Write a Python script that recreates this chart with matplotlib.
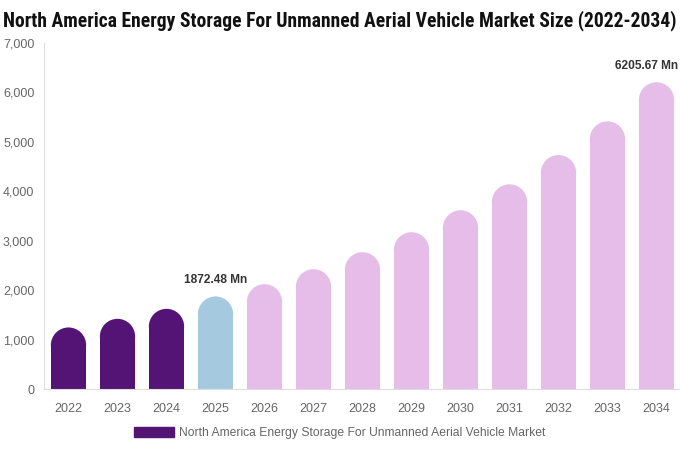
import numpy as np
import matplotlib.pyplot as plt
from matplotlib.patches import Rectangle, Ellipse, Patch
from matplotlib.ticker import FuncFormatter
from matplotlib import font_manager

plt.rcParams['font.family'] = ['Liberation Sans', 'DejaVu Sans']

years = ['2022', '2023', '2024', '2025', '2026', '2027', '2028',
         '2029', '2030', '2031', '2032', '2033', '2034']
values = [1245, 1420, 1622, 1872.48, 2121, 2424, 2768,
          3172, 3616, 4141, 4733, 5414, 6205.67]
colors = ['#541475'] * 3 + ['#a5cadf'] + ['#e6bde8'] * 9
labels = {3: '1872.48 Mn', 12: '6205.67 Mn'}

W, H = 680, 450
fig = plt.figure(figsize=(W / 100, H / 100), dpi=100)
ax = fig.add_axes([44 / W, 61 / H, 637 / W, 346 / H])
ax.set_xlim(-0.5, len(years) - 0.5)
ax.set_ylim(0, 7000)

# bar width in data units and cap height so the top looks round
bw = 0.72
px_x = 637 / len(years)
px_y = 346 / 7000
r_px = bw * px_x / 2
r_y = r_px / px_y

x = np.arange(len(years))
ann = []
for i, (v, c) in enumerate(zip(values, colors)):
    ax.add_patch(Rectangle((x[i] - bw / 2, 0), bw, v - r_y, color=c, lw=0))
    ax.add_patch(Ellipse((x[i], v - r_y), bw, 2 * r_y, color=c, lw=0))
    if i in labels:
        ann.append(ax.text(x[i], v + 16 / px_y, labels[i], ha='center', va='center',
                           fontsize=8.6, fontweight='bold', color='#333333',
                           clip_on=False))

ax.set_xticks(x)
ax.set_xticklabels(years)
ax.set_yticks(np.arange(0, 7001, 1000))
ax.yaxis.set_major_formatter(FuncFormatter(lambda v, p: f'{int(v):,}'))
ax.tick_params(axis='both', colors='#666666', labelsize=9, length=0)
ax.tick_params(axis='x', pad=10)
ax.tick_params(axis='y', pad=7)
for s in ['top', 'right']:
    ax.spines[s].set_visible(False)
ax.spines['left'].set_color('#dddddd')
ax.spines['bottom'].set_color('#dddddd')

# condensed face for the title if one is installed
names = {f.name for f in font_manager.fontManager.ttflist}
cond = [n for n in ['Liberation Sans Narrow', 'DejaVu Sans Condensed',
                    'Roboto Condensed', 'Open Sans Condensed'] if n in names]
title_fam = cond + ['DejaVu Sans']
t = fig.text(0.5, 1 - 21 / H,
             'North America Energy Storage For Unmanned Aerial Vehicle Market Size (2022-2034)',
             ha='center', va='center', fontsize=13.5, fontweight='bold', color='#111111',
             family=title_fam, stretch='condensed')
fig.canvas.draw()
tw = t.get_window_extent().width
t.set_fontsize(13.5 * 676 / tw)

# keep the last value label inside the figure
last = ann[-1]
last.set_ha('right')
last.set_x(ax.transData.inverted().transform((W - 2, 0))[0])

handle = Patch(color='#541475')
fig.legend([handle], ['North America Energy Storage For Unmanned Aerial Vehicle Market'],
           loc='center', bbox_to_anchor=(0.5, 1 - 433 / H), frameon=False,
           fontsize=8.7, labelcolor='#666666', handlelength=3.3, handleheight=0.9,
           handletextpad=0.4)

fig.savefig('out.png', dpi=100)
